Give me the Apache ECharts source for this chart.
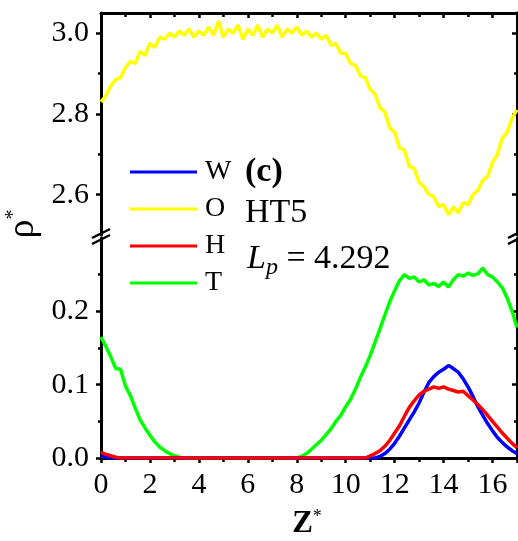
<!DOCTYPE html>
<html>
<head>
<meta charset="utf-8">
<script src="https://cdn.jsdelivr.net/npm/echarts@6/dist/echarts.min.js"></script>
<style>html,body{margin:0;padding:0;background:#fff;}#c{width:518px;height:541px;}</style>
</head>
<body>
<div id="c"></div>
<script>
// z* positions (step 0.2)
const Z = [0,0.2,0.4,0.6,0.8,1,1.2,1.4,1.6,1.8,2,2.2,2.4,2.6,2.8,3,3.2,3.4,3.6,3.8,4,4.2,4.4,4.6,4.8,5,5.2,5.4,5.6,5.8,6,6.2,6.4,6.6,6.8,7,7.2,7.4,7.6,7.8,8,8.2,8.4,8.6,8.8,9,9.2,9.4,9.6,9.8,10,10.2,10.4,10.6,10.8,11,11.2,11.4,11.6,11.8,12,12.2,12.4,12.6,12.8,13,13.2,13.4,13.6,13.8,14,14.2,14.4,14.6,14.8,15,15.2,15.4,15.6,15.8,16,16.2,16.4,16.6,16.8,17];
// O (yellow)
const O = [2.83,2.845,2.87,2.885,2.89,2.915,2.93,2.925,2.955,2.945,2.975,2.965,2.99,2.985,3.0,2.99,3.005,2.995,3.01,2.99,3.005,2.995,3.015,2.995,3.03,2.99,3.01,3.0,3.02,2.985,3.01,2.995,3.02,2.99,3.01,3.0,3.02,2.99,3.01,3.0,3.015,2.995,3.005,2.99,3.0,2.985,2.995,2.97,2.975,2.95,2.95,2.925,2.92,2.895,2.89,2.86,2.85,2.815,2.805,2.765,2.755,2.715,2.71,2.67,2.665,2.63,2.62,2.6,2.595,2.57,2.575,2.55,2.57,2.555,2.58,2.575,2.6,2.61,2.635,2.645,2.68,2.7,2.74,2.755,2.79,2.81];
// W (blue)
const W = [0.003,0.001,0,0,0,0,0,0,0,0,0,0,0,0,0,0,0,0,0,0,0,0,0,0,0,0,0,0,0,0,0,0,0,0,0,0,0,0,0,0,0,0,0,0,0,0,0,0,0,0,0,0,0,0,0,0,0,0.002,0.006,0.012,0.02,0.03,0.041,0.052,0.063,0.075,0.09,0.103,0.111,0.117,0.121,0.126,0.122,0.117,0.108,0.097,0.084,0.07,0.058,0.047,0.037,0.028,0.021,0.015,0.01,0.006];
// H (red)
const H = [0.008,0.005,0.003,0.001,0,0,0,0,0,0,0,0,0,0,0,0,0,0,0,0,0,0,0,0,0,0,0,0,0,0,0,0,0,0,0,0,0,0,0,0,0,0,0,0,0,0,0,0,0,0,0,0,0,0,0,0.003,0.006,0.01,0.016,0.024,0.034,0.044,0.057,0.069,0.078,0.086,0.091,0.094,0.097,0.095,0.097,0.094,0.092,0.09,0.091,0.085,0.079,0.073,0.066,0.058,0.05,0.042,0.034,0.027,0.02,0.014];
// T (green)
const T = [0.165,0.152,0.138,0.122,0.121,0.098,0.085,0.068,0.052,0.041,0.031,0.022,0.015,0.01,0.006,0.003,0.001,0,0,0,0,0,0,0,0,0,0,0,0,0,0,0,0,0,0,0,0,0,0,0,0,0.002,0.006,0.012,0.018,0.024,0.032,0.04,0.05,0.058,0.07,0.08,0.094,0.11,0.124,0.14,0.158,0.176,0.195,0.213,0.228,0.242,0.25,0.245,0.247,0.24,0.243,0.236,0.238,0.234,0.24,0.233,0.243,0.25,0.248,0.252,0.249,0.251,0.259,0.25,0.247,0.24,0.232,0.218,0.2,0.178];

const seriesNames = ['W','O','H','T'];
const seriesColors = ['#0000FF','#FFFF00','#FF0000','#00FF00'];
const topMajor = [2.6, 2.8, 3.0];
const topMinor = [2.7, 2.9];
const botMajor = [0, 0.1, 0.2];
const xTicks = [0, 2, 4, 6, 8, 10, 12, 14, 16];

const FONT = '"Liberation Serif","Times New Roman",serif';
const G = {left:101, right:1, top1:13, h1:222, top2:238, h2:220};

const chart = echarts.init(document.getElementById('c'), null, {renderer:'canvas'});
const axLine = {show:true, lineStyle:{color:'#000', width:3}};
const pair = a => Z.map((z,i)=>[z, a[i]]);

function yAx(grid, pos, min, max, opts) {
  return Object.assign({
    type:'value', gridIndex:grid, position:pos, min:min, max:max,
    axisLine: axLine, splitLine:{show:false},
    axisLabel:{show:false}
  }, opts);
}
const LW = 3.5;

const option = {
  animation:false,
  backgroundColor:'#fff',
  grid:[
    {left:G.left, right:G.right, top:G.top1, height:G.h1},
    {left:G.left, right:G.right, top:G.top2, height:G.h2}
  ],
  xAxis:[
    {type:'value', gridIndex:0, position:'top', min:0, max:17, interval:2,
     axisLine:axLine, splitLine:{show:false}, axisLabel:{show:false},
     axisTick:{show:true, inside:true, length:5, lineStyle:{color:'#000', width:2.5}},
     minorTick:{show:true, splitNumber:2, length:4, lineStyle:{color:'#000', width:2.5}}},
    {type:'value', gridIndex:1, position:'bottom', min:0, max:17, interval:2,
     axisLine:axLine, splitLine:{show:false},
     axisTick:{show:true, inside:false, length:5, lineStyle:{color:'#000', width:2.5}},
     minorTick:{show:true, splitNumber:2, length:4, lineStyle:{color:'#000', width:2.5}},
     axisLabel:{show:true, margin:12, fontFamily:FONT, fontSize:30, color:'#000',
       customValues:xTicks, formatter:v=>String(v)}}
  ],
  yAxis:[
    yAx(0,'left',2.5,3.05,{
      axisTick:{show:true, inside:false, length:5, customValues:topMajor, lineStyle:{color:'#000', width:2.5}},
      axisLabel:{show:true, margin:12, fontFamily:FONT, fontSize:30, color:'#000', customValues:topMajor, formatter:v=>v.toFixed(1)}}),
    yAx(0,'right',2.5,3.05,{
      axisTick:{show:true, inside:true, length:5, customValues:topMajor, lineStyle:{color:'#000', width:2.5}}}),
    yAx(0,'left',2.5,3.05,{axisLine:{show:false},
      axisTick:{show:true, inside:false, length:3, customValues:topMinor, lineStyle:{color:'#000', width:2.5}}}),
    yAx(0,'right',2.5,3.05,{axisLine:{show:false},
      axisTick:{show:true, inside:true, length:3, customValues:topMinor, lineStyle:{color:'#000', width:2.5}}}),
    yAx(1,'left',0,0.3,{interval:0.1,
      axisTick:{show:true, inside:false, length:5, customValues:botMajor, lineStyle:{color:'#000', width:2.5}},
      minorTick:{show:true, splitNumber:2, length:3, lineStyle:{color:'#000', width:2.5}},
      axisLabel:{show:true, margin:12, fontFamily:FONT, fontSize:30, color:'#000', customValues:botMajor, formatter:v=>v.toFixed(1)}}),
    yAx(1,'right',0,0.3,{interval:0.1,
      axisTick:{show:true, inside:true, length:5, customValues:botMajor, lineStyle:{color:'#000', width:2.5}},
      minorTick:{show:true, splitNumber:2, length:3, lineStyle:{color:'#000', width:2.5}}})
  ],
  legend:{
    data:seriesNames, orient:'vertical', left:125, top:153,
    itemWidth:67, itemHeight:3, itemGap:9, icon:'rect',
    textStyle:{fontFamily:FONT, fontSize:28, color:'#000', lineHeight:28, padding:[0,0,0,3]}
  },
  series:[
    {name:'W', type:'line', xAxisIndex:1, yAxisIndex:4, data:pair(W), showSymbol:false, symbol:'none',
     lineStyle:{width:LW, color:seriesColors[0]}, itemStyle:{color:seriesColors[0]}, z:3},
    {name:'O', type:'line', xAxisIndex:0, yAxisIndex:0, data:pair(O), showSymbol:false, symbol:'none',
     lineStyle:{width:LW, color:seriesColors[1]}, itemStyle:{color:seriesColors[1]}},
    {name:'H', type:'line', xAxisIndex:1, yAxisIndex:4, data:pair(H), showSymbol:false, symbol:'none',
     lineStyle:{width:LW, color:seriesColors[2]}, itemStyle:{color:seriesColors[2]}, z:4},
    {name:'T', type:'line', xAxisIndex:1, yAxisIndex:4, data:pair(T), showSymbol:false, symbol:'none',
     lineStyle:{width:LW, color:seriesColors[3]}, itemStyle:{color:seriesColors[3]}, z:2}
  ],
  graphic:[
    // y-axis title rho*
    {type:'text', x:23, y:224, rotation:Math.PI/2,
     style:{text:'{r|ρ}{s|*}', align:'center', verticalAlign:'middle',
       rich:{r:{fontFamily:FONT, fontSize:38, fill:'#000'}, s:{fontFamily:FONT, fontSize:20, fill:'#000', verticalAlign:'top', padding:[0,0,16,0]}}}},
    // x-axis title Z*
    {type:'text', x:307, y:524,
     style:{text:'{b|Z}{s|*}', align:'center', verticalAlign:'middle',
       rich:{b:{fontFamily:FONT, fontWeight:'bold', fontSize:31, fill:'#000'}, s:{fontFamily:FONT, fontSize:18, fill:'#000', padding:[0,0,14,0]}}}},
    // annotations
    {type:'text', x:245, y:172, style:{text:'(c)', fontFamily:FONT, fontWeight:'bold', fontSize:34, fill:'#000', verticalAlign:'middle'}},
    {type:'text', x:245, y:213, style:{text:'HT5', fontFamily:FONT, fontSize:34, fill:'#000', verticalAlign:'middle'}},
    {type:'text', x:247, y:259,
     style:{text:'{i|L}{p|p}{n| = 4.292}', verticalAlign:'middle',
       rich:{i:{fontFamily:FONT, fontStyle:'italic', fontSize:34, fill:'#000'},
             p:{fontFamily:FONT, fontStyle:'italic', fontSize:24, fill:'#000', padding:[18,0,0,0]},
             n:{fontFamily:FONT, fontSize:34, fill:'#000'}}}},
    // axis break markers
    {type:'group', x:101, y:236, children:[
      {type:'polygon', shape:{points:[[-9,3],[9,-6],[9,-1],[-9,8]]}, style:{fill:'#fff'}},
      {type:'line', shape:{x1:-9, y1:2, x2:9, y2:-7}, style:{stroke:'#000', lineWidth:2.5}},
      {type:'line', shape:{x1:-9, y1:8, x2:9, y2:-1}, style:{stroke:'#000', lineWidth:2.5}}
    ]},
    {type:'group', x:517, y:236, children:[
      {type:'polygon', shape:{points:[[-9,3],[9,-6],[9,-1],[-9,8]]}, style:{fill:'#fff'}},
      {type:'line', shape:{x1:-9, y1:2, x2:9, y2:-7}, style:{stroke:'#000', lineWidth:2.5}},
      {type:'line', shape:{x1:-9, y1:8, x2:9, y2:-1}, style:{stroke:'#000', lineWidth:2.5}}
    ]}
  ]
};
chart.setOption(option);
</script>
</body>
</html>
